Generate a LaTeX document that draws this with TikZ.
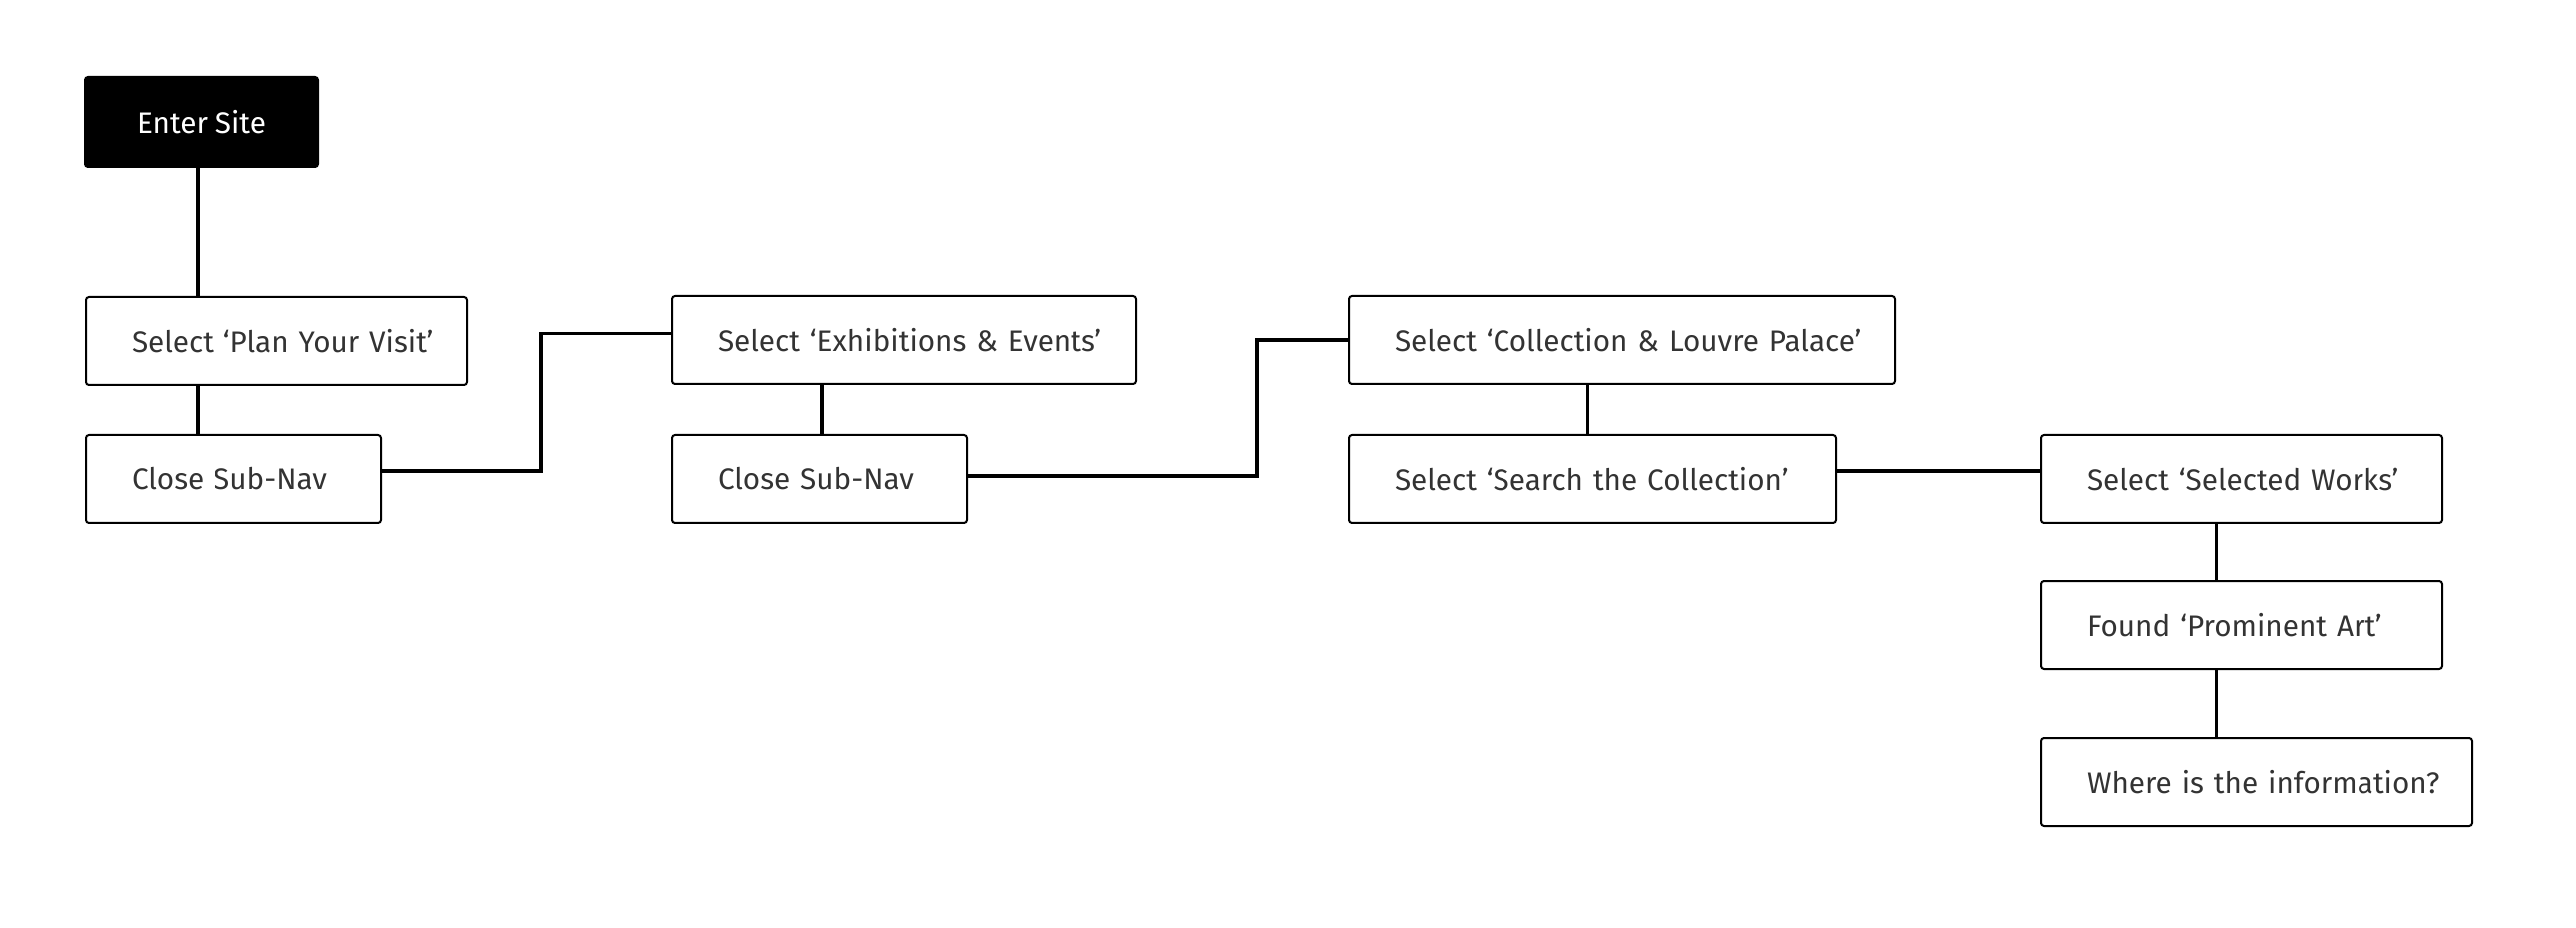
\documentclass[tikz,border=0pt]{standalone}
\usepackage{fontspec}
\setmainfont{Fira Sans}
\usetikzlibrary{calc}
\tikzset{
  stepbox/.style={draw=black, line width=1pt, rounded corners=1.5pt,
    minimum height=44pt, inner xsep=23pt, inner ysep=0pt,
    text width=#1, align=left, anchor=north west,
    font=\fontsize{14.85pt}{18pt}\selectfont, text=black!80},
  startbox/.style={fill=black, draw=black, line width=1pt, rounded corners=1.5pt,
    minimum width=117pt, minimum height=45pt, inner sep=0pt, anchor=north west,
    font=\fontsize{14.85pt}{18pt}\selectfont, text=white},
  conn/.style={draw=black, line width=1.75pt}
}
\begin{document}
\begin{tikzpicture}[x=0.5pt,y=-0.5pt]
\useasboundingbox (0,0) rectangle (2582,930);
\node[startbox] (E) at (84,76) {Enter Site};
\node[stepbox=145pt] (P1) at (85,297) {\mbox{Select ‘Plan Your Visit’}};
\node[stepbox=102pt] (C1) at (85,435) {\mbox{Close Sub-Nav}};
\node[stepbox=186.5pt] (X) at (673,296) {\mbox{Select ‘Exhibitions \& Events’}};
\node[stepbox=101.5pt] (C2) at (673,435) {\mbox{Close Sub-Nav}};
\node[stepbox=227.5pt] (L) at (1351,296) {\mbox{Select ‘Collection \& Louvre Palace’}};
\node[stepbox=198pt] (S) at (1351,435) {\mbox{Select ‘Search the Collection’}};
\node[stepbox=155pt] (W) at (2045,435) {\mbox{Select ‘Selected Works’}};
\node[stepbox=155pt] (F) at (2045,581) {\mbox{Found ‘Prominent Art’}};
\node[stepbox=170pt] (Q) at (2045,739) {\mbox{Where is the information?}};
% connectors
\draw[conn] ([xshift=56.5pt]P1.north west |- E.south) -- ([xshift=56.5pt]P1.north west);
\draw[conn] ([xshift=56.5pt]P1.south west) -- ([xshift=56.5pt]C1.north west);
\draw[conn] ([yshift=4pt]C1.east) -| ([xshift=-65.5pt,yshift=3.25pt]X.west) -- ([yshift=3.25pt]X.west);
\draw[conn] ([xshift=75.5pt]X.south west) -- ([xshift=75.5pt]C2.north west);
\draw[conn] ([yshift=1.5pt]C2.east) -| ([xshift=-45.5pt]L.west) -- (L.west);
\draw[conn] ([xshift=120.3pt]L.south west) -- ([xshift=120.3pt]S.north west);
\draw[conn] ([yshift=4pt]S.east) -- ([yshift=4pt]S.east -| W.west);
\draw[conn] ([xshift=88.35pt]W.south west) -- ([xshift=88.35pt]F.north west);
\draw[conn] ([xshift=88.35pt]F.south west) -- ([xshift=88.35pt]Q.north west);
\end{tikzpicture}
\end{document}
